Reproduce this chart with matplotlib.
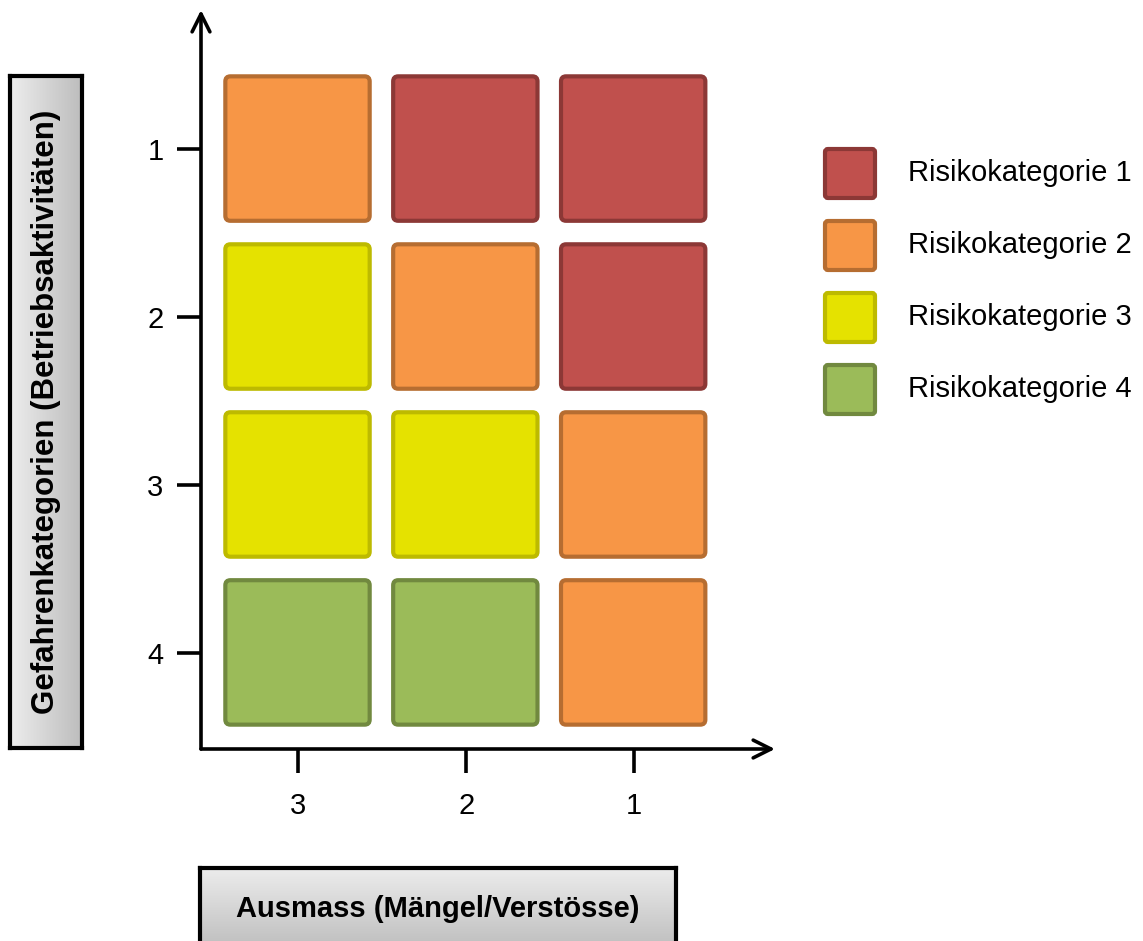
import numpy as np
import matplotlib.pyplot as plt
from matplotlib.patches import FancyBboxPatch
from matplotlib.colors import LinearSegmentedColormap

plt.rcParams["font.family"] = ["Liberation Sans", "DejaVu Sans"]

# data
x_labels = ["3", "2", "1"]          # Ausmass, left to right
y_labels = ["1", "2", "3", "4"]     # Gefahrenkategorien, top to bottom
risk = [
    [2, 1, 1],
    [3, 2, 1],
    [3, 3, 2],
    [4, 4, 2],
]
cat_names = ["Risikokategorie 1", "Risikokategorie 2", "Risikokategorie 3", "Risikokategorie 4"]
fills = ["#C0504D", "#F79646", "#E5E200", "#9BBB59"]
edges = ["#8C3836", "#B66D31", "#BDBA00", "#71893F"]

W, H = 1143, 941
fig = plt.figure(figsize=(W / 100, H / 100), dpi=100)

# main matrix axes
ax = fig.add_axes([201 / W, 1 - 749 / H, (775 - 201) / W, (749 - 10) / H])
ax.set_xlim(0.42, 3.84)
ax.set_ylim(4.57, 0.17)
size = 0.86
for r, row in enumerate(risk):
    for c, k in enumerate(row):
        x, y = c + 1, r + 1
        p = FancyBboxPatch((x - size / 2 - 0.005, y - size / 2 - 0.005), size, size,
                           boxstyle="round,pad=0,rounding_size=0.03",
                           facecolor=fills[k - 1], edgecolor=edges[k - 1], lw=3)
        ax.add_patch(p)

for s in ax.spines.values():
    s.set_visible(False)
for tip in [(1, 0), (0, 1)]:
    ax.annotate("", xy=tip, xytext=(0, 0), xycoords="axes fraction",
                arrowprops=dict(arrowstyle="->", lw=2.6, color="black", mutation_scale=32,
                                shrinkA=0, shrinkB=0))
ax.set_xticks(range(1, len(x_labels) + 1))
ax.set_xticklabels(x_labels)
ax.set_yticks(range(1, len(y_labels) + 1))
ax.set_yticklabels(y_labels)
ax.tick_params(axis="both", length=17, width=2.6, labelsize=21, color="black")
ax.tick_params(axis="x", pad=14)
ax.tick_params(axis="y", pad=10)

box_cmap = LinearSegmentedColormap.from_list("box", ["#ededed", "#bdbdbd"])


def label_box(rect, text, rotation, horizontal, fs):
    bx = fig.add_axes(rect)
    g = np.linspace(0, 1, 256)
    grad = g[None, :] if horizontal else g[:, None]
    bx.imshow(grad, cmap=box_cmap, aspect="auto", extent=[0, 1, 0, 1],
              origin="upper" if not horizontal else "lower")
    bx.set_xticks([])
    bx.set_yticks([])
    for s in bx.spines.values():
        s.set_linewidth(3)
        s.set_color("black")
    bx.text(0.5, 0.5, text, rotation=rotation, ha="center", va="center",
            fontsize=fs, fontweight="bold", transform=bx.transAxes)


label_box([10 / W, 1 - 748 / H, 72 / W, 672 / H],
          "Gefahrenkategorien (Betriebsaktivitäten)", 90, True, 22.5)
label_box([200 / W, -0.01, 476 / W, 73 / H + 0.01],
          "Ausmass (Mängel/Verstösse)", 0, False, 21)

# legend
lg = fig.add_axes([820 / W, 1 - 420 / H, 323 / W, 280 / H])
lg.set_xlim(0, 323)
lg.set_ylim(280, 0)
lg.axis("off")
for i, name in enumerate(cat_names):
    yc = 33 + i * 72
    p = FancyBboxPatch((5, yc - 24), 50, 49,
                       boxstyle="round,pad=0,rounding_size=3",
                       facecolor=fills[i], edgecolor=edges[i], lw=3)
    lg.add_patch(p)
    lg.text(88, yc, name, fontsize=21, va="center", ha="left")

fig.savefig("out.png", dpi=100)
plt.close()
